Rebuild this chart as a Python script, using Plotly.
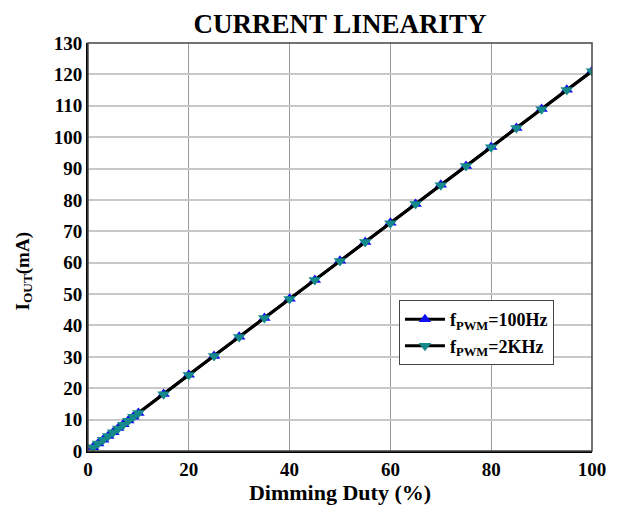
import plotly.graph_objects as go

duty = [1, 2, 3, 4, 5, 6, 7, 8, 9, 10, 15, 20, 25, 30, 35, 40, 45, 50,
        55, 60, 65, 70, 75, 80, 85, 90, 95, 100]
iout_100hz = [1.2, 2.4, 3.6, 4.8, 6.0, 7.3, 8.5, 9.7, 10.9, 12.1, 18.2, 24.3,
              30.3, 36.4, 42.4, 48.5, 54.5, 60.6, 66.6, 72.7, 78.7, 84.8,
              90.8, 96.9, 102.9, 109.0, 115.1, 121.1]
iout_2khz = [1.2, 2.4, 3.6, 4.8, 6.0, 7.2, 8.4, 9.6, 10.9, 12.1, 18.1, 24.2,
             30.3, 36.3, 42.4, 48.4, 54.5, 60.5, 66.6, 72.6, 78.7, 84.7,
             90.8, 96.8, 102.9, 108.9, 115.0, 121.0]

x_ticks = [0, 20, 40, 60, 80, 100]
y_ticks = list(range(0, 131, 10))

FONT = "Liberation Serif"

fig = go.Figure()
fig.add_trace(go.Scatter(
    x=duty, y=iout_100hz, mode="lines+markers",
    name="<b>f<sub>PWM</sub>=100Hz</b>",
    line=dict(color="black", width=3),
    marker=dict(symbol="triangle-up", color="#1010ee", size=11),
))
fig.add_trace(go.Scatter(
    x=duty, y=iout_2khz, mode="lines+markers",
    name="<b>f<sub>PWM</sub>=2KHz</b>",
    line=dict(color="black", width=3),
    marker=dict(symbol="triangle-down", color="#168a8a", size=11),
))

fig.add_shape(type="rect", xref="paper", yref="paper", x0=0, y0=0, x1=1, y1=1,
              line=dict(color="#444444", width=1.5), layer="above")

fig.add_annotation(text="<b>I<sub>OUT</sub>(mA)</b>", textangle=-90,
                   xref="paper", yref="paper", x=-0.127, y=0.44,
                   xanchor="center", yanchor="middle", showarrow=False,
                   font=dict(family=FONT, size=19, color="black"))

fig.update_layout(
    width=610, height=503,
    margin=dict(l=80, r=26, t=35, b=60, autoexpand=False),
    paper_bgcolor="white", plot_bgcolor="white",
    font=dict(family=FONT, color="black", size=19),
    title=dict(text="<b>CURRENT LINEARITY</b>", x=0.5, xanchor="center",
               xref="paper", y=0.970, yanchor="middle",
               font=dict(family=FONT, size=27, color="black")),
    showlegend=True,
    legend=dict(x=0.617, y=0.37, xanchor="left", yanchor="top",
                bgcolor="white", bordercolor="#444444", borderwidth=1,
                font=dict(family=FONT, size=18, color="black"),
                tracegroupgap=0, itemwidth=40),
    xaxis=dict(range=[0, 100], tickvals=x_ticks,
               ticktext=[f"<b>{v}</b>" for v in x_ticks],
               showgrid=True, gridcolor="#9a9a9a", gridwidth=1,
               showline=True, linecolor="black", linewidth=2,
               ticks="", zeroline=False, automargin=False,
               title=dict(text="<b>Dimming Duty (%)</b>", standoff=6,
                          font=dict(family=FONT, size=22))),
    yaxis=dict(range=[0, 130], tickvals=y_ticks,
               ticktext=[f"<b>{v}</b>" for v in y_ticks],
               showgrid=True, gridcolor="#c8c8c8", gridwidth=1.5,
               showline=True, linecolor="black", linewidth=2,
               ticks="", zeroline=False, automargin=False),
)

fig.write_html("out.html")
